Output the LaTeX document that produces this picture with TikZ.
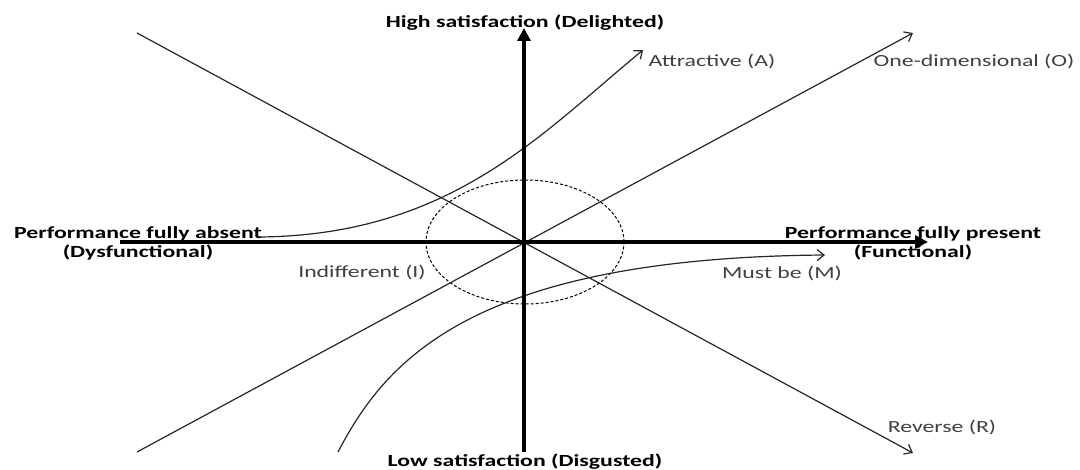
\documentclass[tikz,border=0pt]{standalone}
\usepackage{fontspec}
\setmainfont{Carlito}[FakeStretch=1.4]
\usetikzlibrary{arrows.meta}

\begin{document}
\begin{tikzpicture}[x=1pt, y=-1pt,
    axis/.style = {line width=4pt, -{Triangle[length=13pt, width=13pt]}},
    kano/.style = {line width=1.2pt, black!85, -{Straight Barb[length=7pt, width=11pt]}},
    axlabel/.style = {font=\fontsize{17}{19}\selectfont\bfseries, align=center, inner sep=0pt},
    klabel/.style = {font=\fontsize{17}{19}\selectfont, text=black!75, inner sep=0pt}]
        \useasboundingbox (0,0) rectangle (1080,470);

        % Axis ends and centre
        \coordinate (o) at (525,242);
        \coordinate (xl) at (120,242);
        \coordinate (xr) at (928,242);
        \coordinate (yb) at (524,452);
        \coordinate (yt) at (524,28);

        % Ends of the category lines
        \coordinate (rev-s) at (137,33);
        \coordinate (rev-e) at (913,453);
        \coordinate (one-s) at (137,452);
        \coordinate (one-e) at (913,33);
        \coordinate (att-s) at (260,237);
        \coordinate (att-e) at (643,50);
        \coordinate (must-s) at (338,452);
        \coordinate (must-e) at (825,255);

        % Indifference zone
        \draw[line width=1pt, dash pattern=on 3pt off 2pt] (o) ellipse [x radius=99pt, y radius=62pt];

        % Categories
        \draw[kano] (rev-s) -- (rev-e);
        \draw[kano] (one-s) -- (one-e);
        \draw[kano] (att-s) .. controls (450,235) and (540,135) .. (att-e);
        \draw[kano] (must-s) .. controls (385,362) and (470,258) .. (must-e);

        % Axes
        \draw[axis] (xl) -- (xr);
        \draw[axis] (yb) -- (yt);

        % Axis labels
        \node[axlabel] (high) at (525,23) {High satisfaction (Delighted)};
        \node[axlabel] (low) at (525,462) {Low satisfaction (Disgusted)};
        \node[axlabel] (absent) at (138,243) {Performance fully absent\\(Dysfunctional)};
        \node[axlabel] (present) at (913,243) {Performance fully present\\(Functional)};

        % Category labels
        \node[klabel] (att) at (712,61) {Attractive (A)};
        \node[klabel] (one) at (974,61) {One-dimensional (O)};
        \node[klabel] (ind) at (362,272) {Indifferent (I)};
        \node[klabel] (must) at (782,273) {Must be (M)};
        \node[klabel] (rev) at (942,427) {Reverse (R)};
      \end{tikzpicture}
\end{document}
